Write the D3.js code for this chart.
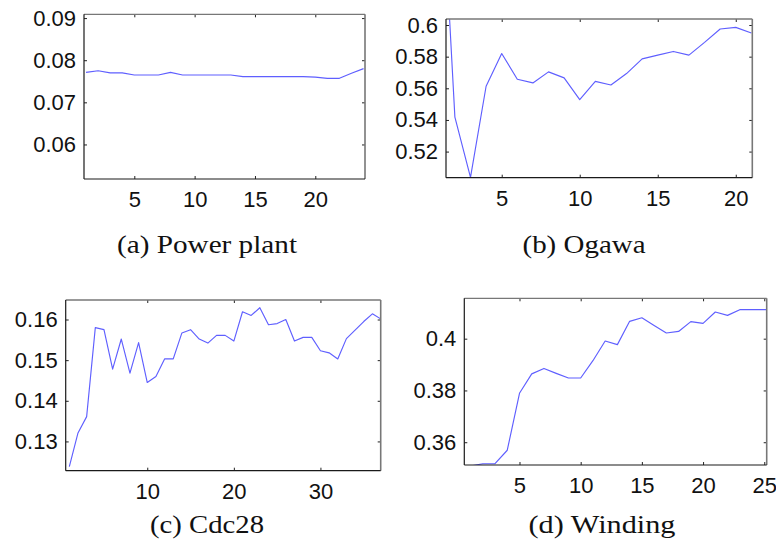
<!DOCTYPE html>
<html>
<head>
<meta charset="utf-8">
<script src="https://cdn.jsdelivr.net/npm/d3@7"></script>
<style>
  html, body { margin: 0; padding: 0; background: #fff; }
  svg { display: block; }
</style>
</head>
<body>
<svg id="chart" width="776" height="549"></svg>
<script>
// ---------------- data ----------------
const powerPlant = [0.0771, 0.0775, 0.0770, 0.0770, 0.0765, 0.0765, 0.0765, 0.0771, 0.0765, 0.0765,
  0.0765, 0.0765, 0.0765, 0.0761, 0.0761, 0.0761, 0.0761, 0.0761, 0.0761, 0.0760,
  0.0757, 0.0757, 0.0769, 0.0780];
const ogawa = [0.724, 0.5418, 0.5037, 0.5613, 0.5820, 0.5657, 0.5634, 0.5704, 0.5666, 0.5528,
  0.5644, 0.5621, 0.5693, 0.5786, 0.5810, 0.5833, 0.5810, 0.5890, 0.5975, 0.5985, 0.5949];
const cdc28 = [0.1238, 0.1321, 0.1361, 0.1580, 0.1575, 0.1478, 0.1552, 0.1468, 0.1543, 0.1445,
  0.1460, 0.1503, 0.1503, 0.1567, 0.1575, 0.1552, 0.1542, 0.1561, 0.1561, 0.1547,
  0.1619, 0.1610, 0.1629, 0.1587, 0.1590, 0.1600, 0.1547, 0.1556, 0.1556, 0.1523,
  0.1518, 0.1503, 0.1553, 0.1574, 0.1595, 0.1614, 0.1601];
const winding = [0.3508, 0.3517, 0.3517, 0.3569, 0.3789, 0.3864, 0.3885, 0.3866, 0.3848, 0.3848,
  0.3915, 0.3991, 0.3977, 0.4067, 0.4081, 0.4051, 0.4022, 0.4028, 0.4066, 0.4059,
  0.4103, 0.4090, 0.4112, 0.4112, 0.4112, 0.4112];

const captions = ["(a) Power plant", "(b) Ogawa", "(c) Cdc28", "(d) Winding"];

const xTicksA = [5, 10, 15, 20];
const xTicksB = [5, 10, 15, 20];
const xTicksC = [10, 20, 30];
const xTicksD = [5, 10, 15, 20, 25];

const yTicksA = [0.06, 0.07, 0.08, 0.09];
const yTickLabelsA = ["0.06", "0.07", "0.08", "0.09"];
const yTicksB = [0.52, 0.54, 0.56, 0.58, 0.6];
const yTickLabelsB = ["0.52", "0.54", "0.56", "0.58", "0.6"];
const yTicksC = [0.13, 0.14, 0.15, 0.16];
const yTickLabelsC = ["0.13", "0.14", "0.15", "0.16"];
const yTicksD = [0.36, 0.38, 0.4];
const yTickLabelsD = ["0.36", "0.38", "0.4"];

// ---------------- layout ----------------
const panels = [
  { values: powerPlant, caption: captions[0], xTicks: xTicksA, yTicks: yTicksA, yLabels: yTickLabelsA,
    xDom: [0.83, 24.12], yDom: [0.0518, 0.0909], box: [84, 14.3, 365, 179], cap: [207, 244, 180] },
  { values: ogawa, caption: captions[1], xTicks: xTicksB, yTicks: yTicksB, yLabels: yTickLabelsB,
    xDom: [1.43, 21.06], yDom: [0.5035, 0.6038], box: [446, 19, 752.3, 177.7], cap: [584, 244, 123] },
  { values: cdc28, caption: captions[2], xTicks: xTicksC, yTicks: yTicksC, yLabels: yTickLabelsC,
    xDom: [0.58, 36.96], yDom: [0.1228, 0.1648], box: [65.7, 300, 380.7, 470.7], cap: [207, 524, 114] },
  { values: winding, caption: captions[3], xTicks: xTicksD, yTicks: yTicksD, yLabels: yTickLabelsD,
    xDom: [0.49, 25.2], yDom: [0.3512, 0.4156], box: [464.3, 298.3, 766.7, 465], cap: [602, 524, 147] }
];

const svg = d3.select("#chart");
const tickFont = "'Liberation Sans', Arial, sans-serif";
const capFont = "'Liberation Serif', 'Times New Roman', serif";

panels.forEach((p, idx) => {
  const [x0, y0, x1, y1] = p.box;
  const x = d3.scaleLinear().domain(p.xDom).range([x0, x1]);
  const y = d3.scaleLinear().domain(p.yDom).range([y1, y0]);
  const g = svg.append("g");

  const clipId = "clip" + idx;
  svg.append("clipPath").attr("id", clipId)
    .append("rect").attr("x", x0).attr("y", y0).attr("width", x1 - x0).attr("height", y1 - y0);

  // axes (ticks pointing inward)
  const ax = (gen, tx, ty) => g.append("g").attr("transform", `translate(${tx},${ty})`).call(gen);
  const styleAxis = sel => {
    sel.select(".domain").remove();
    sel.selectAll(".tick line").attr("stroke", "#222").attr("stroke-width", 1);
    sel.selectAll("text").attr("fill", "#111").style("font-family", tickFont).style("font-size", "22px");
  };
  styleAxis(ax(d3.axisBottom(x).tickValues(p.xTicks).tickFormat(d3.format("d"))
    .tickSizeInner(-3).tickSizeOuter(0).tickPadding(12.5), 0, y1));
  styleAxis(ax(d3.axisTop(x).tickValues(p.xTicks).tickFormat("")
    .tickSizeInner(-3).tickSizeOuter(0), 0, y0));
  styleAxis(ax(d3.axisLeft(y).tickValues(p.yTicks).tickFormat((d, i) => p.yLabels[i])
    .tickSizeInner(-3).tickSizeOuter(0).tickPadding(8), x0, 0));
  styleAxis(ax(d3.axisRight(y).tickValues(p.yTicks).tickFormat("")
    .tickSizeInner(-3).tickSizeOuter(0), x1, 0));

  // data line
  const line = d3.line().x((d, i) => x(i + 1)).y(d => y(d));
  g.append("path").datum(p.values)
    .attr("clip-path", `url(#${clipId})`)
    .attr("fill", "none").attr("stroke", "#5f5fff").attr("stroke-width", 1.15)
    .attr("stroke-linejoin", "round")
    .attr("d", line);

  // box
  g.append("line").attr("x1", x0).attr("x2", x1).attr("y1", y0).attr("y2", y0)
    .attr("stroke", "#777").attr("stroke-width", 1.3);
  g.append("line").attr("x1", x1).attr("x2", x1).attr("y1", y0).attr("y2", y1)
    .attr("stroke", "#777").attr("stroke-width", 1.6);
  g.append("line").attr("x1", x0).attr("x2", x0).attr("y1", y0).attr("y2", y1)
    .attr("stroke", "#1a1a1a").attr("stroke-width", 1.2);
  g.append("line").attr("x1", x0).attr("x2", x1).attr("y1", y1).attr("y2", y1)
    .attr("stroke", "#1a1a1a").attr("stroke-width", 1.2);

  // caption
  svg.append("text").attr("x", p.cap[0]).attr("y", p.cap[1])
    .attr("text-anchor", "middle").attr("dominant-baseline", "central")
    .attr("textLength", p.cap[2]).attr("lengthAdjust", "spacingAndGlyphs")
    .style("font-family", capFont).style("font-size", "26px").attr("fill", "#111")
    .text(p.caption);
});
</script>
</body>
</html>
